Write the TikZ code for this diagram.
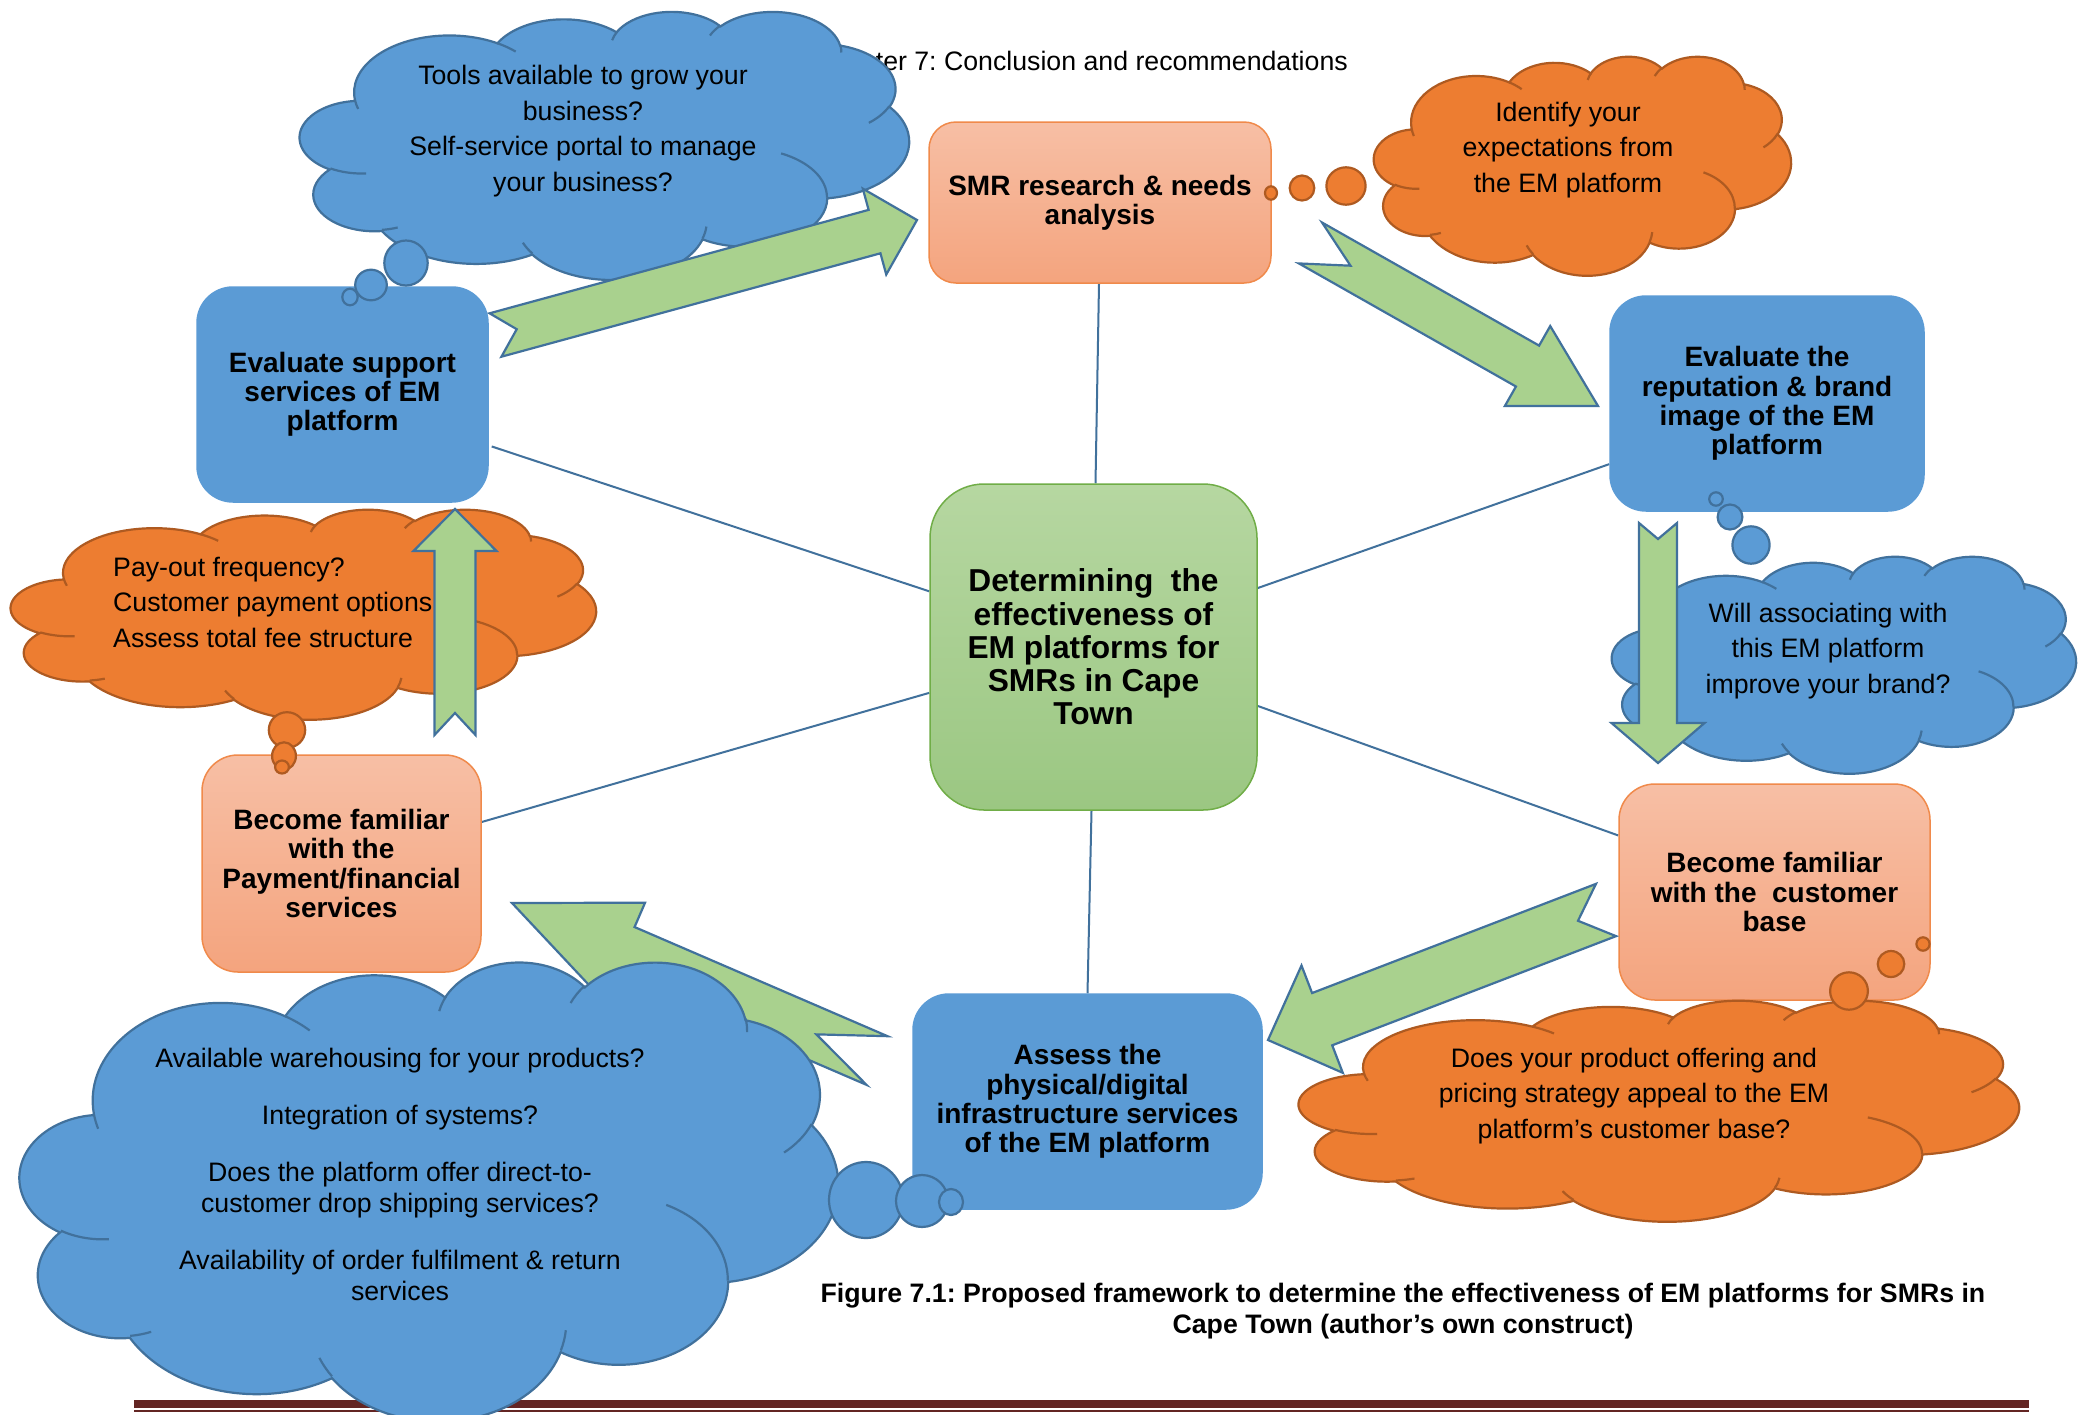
\documentclass[tikz,border=0pt]{standalone}
\usepackage{fontspec}
\setmainfont{Liberation Sans}
\usetikzlibrary{calc}
\AtBeginDocument{\frenchspacing}
\definecolor{cblue}{HTML}{5B9BD5}
\definecolor{cbluedark}{HTML}{41719C}
\definecolor{corange}{HTML}{ED7D31}
\definecolor{corangedark}{HTML}{AE5A21}
\definecolor{salmontop}{HTML}{F7BFA5}
\definecolor{salmonbot}{HTML}{F4A47E}
\definecolor{salmonline}{HTML}{F08A4B}
\definecolor{greentop}{HTML}{B6D7A1}
\definecolor{greenbot}{HTML}{9BC782}
\definecolor{greenline}{HTML}{70AD47}
\definecolor{arrowgreen}{HTML}{A9D18E}
\definecolor{barred}{HTML}{632523}
\definecolor{linkblue}{HTML}{41719C}
\pgfdeclarelayer{bg}
\pgfsetlayers{bg,main}
\newcommand\fntbody{\fontsize{26.7pt}{35.5pt}\selectfont}
\newcommand\fntboxed{\fontsize{28pt}{29.2pt}\selectfont\bfseries}
\newcommand\fntcenter{\fontsize{31.7pt}{33.2pt}\selectfont\bfseries}
\newcommand\fntlist{\fontsize{26.7pt}{31pt}\selectfont}
\newcommand\fntcap{\fontsize{26.7pt}{30.7pt}\selectfont\bfseries}
% Office cloud arcs (visual angles -> parametric)
\newcommand\occalc[4]{%
 \pgfmathsetmacro\ocA{atan2((#1)*sin(#3),(#2)*cos(#3))}%
 \pgfmathsetmacro\ocB{atan2((#1)*sin((#3)+(#4)),(#2)*cos((#3)+(#4)))}%
 \pgfmathsetmacro\ocdt{\ocB-\ocA}%
 \pgfmathsetmacro\ocdt{ifthenelse(\ocdt<0,\ocdt+360,\ocdt)}%
 \let\octs\ocA}
\newcommand\ocarc[4]{\pgfextra{\occalc{#1}{#2}{#3}{#4}} arc[start angle=\octs, delta angle=\ocdt, x radius=#1, y radius=#2]}
\newcommand\officecloud[5]{%
 \pgfmathsetmacro\ocxs{#3/432}\pgfmathsetmacro\ocys{#4/432}%
 \begin{scope}[shift={(#1,#2)},xscale=\ocxs,yscale=\ocys]
 \path[#5] (39.00,143.70)
  \ocarc{67.53}{91.90}{-190.4875}{123.7805}
  \ocarc{53.33}{72.67}{-144.1024}{89.9452}
  \ocarc{43.65}{59.45}{-145.8079}{99.7230}
  \ocarc{48.57}{65.95}{-130.9861}{117.2417}
  \ocarc{53.33}{72.73}{-78.7089}{109.0269}
  \ocarc{67.75}{92.20}{-46.2673}{130.2690}
  \ocarc{57.85}{78.67}{0.6250}{114.0333}
  \ocarc{67.52}{92.15}{22.4516}{115.1726}
  \ocarc{77.20}{105.43}{66.2426}{75.7110}
  \ocarc{43.60}{59.18}{-274.9421}{146.7356}
  \ocarc{43.45}{59.45}{-246.8285}{152.5189}
  -- cycle;
 \path[#5,fill=none]
  (46.93,261.77) \ocarc{43.45}{59.45}{86.7420}{26.4295}
  (69.28,348.99) \ocarc{43.60}{59.18}{73.6105}{11.4475}
  (164.78,390.90) \ocarc{67.52}{92.15}{137.6242}{14.0811}
  (288.27,347.51) \ocarc{67.52}{92.15}{6.4533}{15.9984}
  (341.29,229.54) \ocarc{57.85}{78.67}{-70.2924}{70.9174}
  (417.98,153.54) \ocarc{53.33}{72.73}{30.3180}{27.7515}
  (383.24,54.26) \ocarc{48.57}{65.95}{-13.7443}{14.8589}
  (290.78,39.52) \ocarc{48.57}{65.95}{-149.1815}{18.1954}
  (221.41,47.20) \ocarc{43.65}{59.45}{-163.4943}{17.6864}
  (140.00,51.92) \ocarc{67.53}{91.90}{-66.7070}{12.3194}
  (41.27,157.89) \ocarc{67.53}{91.90}{157.6544}{11.8582};
 \end{scope}}
% notched block arrow: tail, tip, shaft width, head width, head length, notch depth
\newcommand\blockarrow[6]{%
 \draw[greenarrow] let \p1=($(#2)-(#1)$), \n1={veclen(\x1,\y1)} in
  ($(#1)!{#3*0.5pt}!90:(#2)$)
  -- ($(#1)!{\n1-#5*1pt}!(#2)!{#3*0.5pt}!90:(#2)$)
  -- ($(#1)!{\n1-#5*1pt}!(#2)!{#4*0.5pt}!90:(#2)$)
  -- (#2)
  -- ($(#1)!{\n1-#5*1pt}!(#2)!{#4*0.5pt}!-90:(#2)$)
  -- ($(#1)!{\n1-#5*1pt}!(#2)!{#3*0.5pt}!-90:(#2)$)
  -- ($(#1)!{#3*0.5pt}!-90:(#2)$)
  -- ($(#1)!{#6*1pt}!(#2)$) -- cycle;}
\tikzset{
 boxtext/.style={align=center, font=\fntboxed, text=black, inner sep=0pt},
 bluebox/.style={boxtext, fill=cblue, draw=cblue, line width=1.5pt},
 salmonbox/.style={boxtext, top color=salmontop, bottom color=salmonbot, draw=salmonline, line width=1.5pt},
 centerbox/.style={align=center, font=\fntcenter, text=black, inner sep=0pt, top color=greentop, bottom color=greenbot, draw=greenline, line width=1.5pt},
 bluecloud/.style={fill=cblue, draw=cbluedark, line width=2.2pt},
 orangecloud/.style={fill=corange, draw=corangedark, line width=2.2pt},
 greenarrow/.style={fill=arrowgreen, draw=cbluedark, line width=2.2pt, line join=miter},
 link/.style={draw=linkblue, line width=2pt},
 cloudtext/.style={align=center, font=\fntbody, text=black, inner sep=0pt},
}
\begin{document}
\begin{tikzpicture}[x=1pt,y=-1pt]
\begin{pgfonlayer}{bg}
\fill[white] (0,0) rectangle (2083,1414);
\end{pgfonlayer}
\useasboundingbox (0,0) rectangle (2083,1414);
% header (partly hidden by cloud)
\node[anchor=base east, font=\fntbody, inner sep=0pt] (hdr) at (1348,70) {Chapter 7: Conclusion and recommendations};
% bottom rule
\fill[barred] (134,1400) rectangle (2029,1408);
\fill[barred] (134,1410) rectangle (2029,1411.6);
% boxes
\node[salmonbox, minimum width=342pt, minimum height=161pt, rounded corners=27pt] (b1) at (1100,202.5) {SMR research \& needs\\analysis};
\node[bluebox, minimum width=291pt, minimum height=215pt, rounded corners=36pt] (b2) at (342.5,394.5) {Evaluate support\\services of EM\\platform};
\node[bluebox, minimum width=314pt, minimum height=215pt, rounded corners=36pt] (b3) at (1767,403.5) {Evaluate the\\reputation \& brand\\image of the EM\\platform};
\node[centerbox, minimum width=327pt, minimum height=326pt, rounded corners=54pt] (c) at (1093.5,647) {Determining~ the\\effectiveness of\\EM platforms for\\SMRs in Cape\\Town};
\node[salmonbox, minimum width=279pt, minimum height=217pt, rounded corners=36pt] (b5) at (341.5,863.5) {Become familiar\\with the\\Payment/financial\\services};
\node[salmonbox, minimum width=311pt, minimum height=216pt, rounded corners=36pt] (b6) at (1774.5,892) {Become familiar\\with the~ customer\\base};
\node[bluebox, minimum width=349pt, minimum height=215pt, rounded corners=36pt] (b7) at (1087.5,1101.5) {Assess the\\physical/digital\\infrastructure services\\of the EM platform};
% spokes
\begin{pgfonlayer}{bg}
\draw[link] ($(b1.south)+(-1,0)$) -- ($(c.north)+(2,0)$);
\draw[link] ($(b2.north east)!0.74!(b2.south east)+(3,0)$) -- ($(c.north west)!0.33!(c.south west)$);
\draw[link] ($(b3.north west)!0.78!(b3.south west)$) -- ($(c.north east)!0.32!(c.south east)$);
\draw[link] ($(b5.north east)!0.31!(b5.south east)$) -- ($(c.north west)!0.64!(c.south west)$);
\draw[link] ($(b6.north west)!0.24!(b6.south west)$) -- ($(c.north east)!0.68!(c.south east)$);
\draw[link] (b7.north) -- ($(c.south)+(-2,0)$);
\end{pgfonlayer}
% arrow coordinates
\coordinate (aDt) at (1606,910);   \coordinate (aDp) at (1268,1040);
\coordinate (aEt) at (877,1060.5); \coordinate (aEp) at (512,903);
\blockarrow{aDt}{aDp}{56}{115}{58}{30}
\blockarrow{aEt}{aEp}{53}{106}{122}{66}
% clouds
\officecloud{300}{11}{609}{268}{bluecloud}
\officecloud{1374}{56}{417}{219}{orangecloud}
\officecloud{11}{509}{585}{210}{orangecloud}
\officecloud{1612}{556}{464}{217}{bluecloud}
\officecloud{20}{961}{818}{459}{bluecloud}
\officecloud{1299}{1000}{720}{221}{orangecloud}
% thought bubbles
\draw[bluecloud] (406,263) ellipse [x radius=21.7, y radius=22.5];
\draw[bluecloud] (371,285) ellipse [x radius=15.8, y radius=15.3];
\draw[bluecloud] (350,297) ellipse [x radius=7.7, y radius=8.3];
\draw[orangecloud] (1346,186) ellipse [x radius=19.6, y radius=18.7];
\draw[orangecloud] (1302,188) ellipse [x radius=12.3, y radius=12.5];
\draw[orangecloud] (1271,193) ellipse [x radius=6, y radius=6.7];
\draw[orangecloud] (287,730) ellipse [x radius=18.2, y radius=17.8];
\draw[orangecloud] (284,756) ellipse [x radius=11.9, y radius=13.7];
\draw[orangecloud] (282,767) ellipse [x radius=6.9, y radius=6.5];
\draw[bluecloud] (1716,499) ellipse [x radius=6.8, y radius=6.7];
\draw[bluecloud] (1730,517) ellipse [x radius=12.4, y radius=12.5];
\draw[bluecloud] (1751,545) ellipse [x radius=18.6, y radius=18.7];
\draw[bluecloud] (866,1200) ellipse [x radius=37, y radius=38];
\draw[bluecloud] (922,1201) ellipse [x radius=26, y radius=26];
\draw[bluecloud] (951,1202) ellipse [x radius=12, y radius=13];
\draw[orangecloud] (1923,944) ellipse [x radius=6.6, y radius=6.7];
\draw[orangecloud] (1891,964) ellipse [x radius=13.3, y radius=13];
\draw[orangecloud] (1849,991) ellipse [x radius=18.9, y radius=18.7];
% arrows on top
\coordinate (aAt) at (495.5,335); \coordinate (aAp) at (917,220);
\coordinate (aBt) at (1310.5,243); \coordinate (aBp) at (1598,406);
\coordinate (aCt) at (1658,523);  \coordinate (aCp) at (1658,763);
\coordinate (aFt) at (455,735);   \coordinate (aFp) at (455,509);
\blockarrow{aAt}{aAp}{45}{89}{44}{22}
\blockarrow{aBt}{aBp}{47}{92}{81}{46}
\blockarrow{aCt}{aCp}{38}{93}{40}{16}
\blockarrow{aFt}{aFp}{41}{83}{42}{22}
% cloud texts
\node[cloudtext] (t1) at (583,131) {Tools available to grow your\\business?\\Self-service portal to manage\\your business?};
\node[cloudtext] (t2) at (1568,150) {Identify your\\expectations from\\the EM platform};
\node[cloudtext, anchor=west, align=left] (t3) at (113,602) {Pay-out frequency?\\Customer payment options\\Assess total fee structure};
\node[cloudtext] (t4) at (1828,651) {Will associating with\\this EM platform\\improve your brand?};
\node[cloudtext, font=\fntlist] (t5) at (400,1174) {Available warehousing for your products?\\[26pt]Integration of systems?\\[26pt]Does the platform offer direct-to-\\customer drop shipping services?\\[26pt]Availability of order fulfilment \& return\\services};
\node[cloudtext] (t6) at (1634,1096) {Does your product offering and\\pricing strategy appeal to the EM\\platform’s customer base?};
% caption
\node[align=center, font=\fntcap, inner sep=0pt] (cap) at (1403,1311) {Figure 7.1: Proposed framework to determine the effectiveness of EM platforms for SMRs in\\Cape Town (author’s own construct)};
\end{tikzpicture}
\end{document}
